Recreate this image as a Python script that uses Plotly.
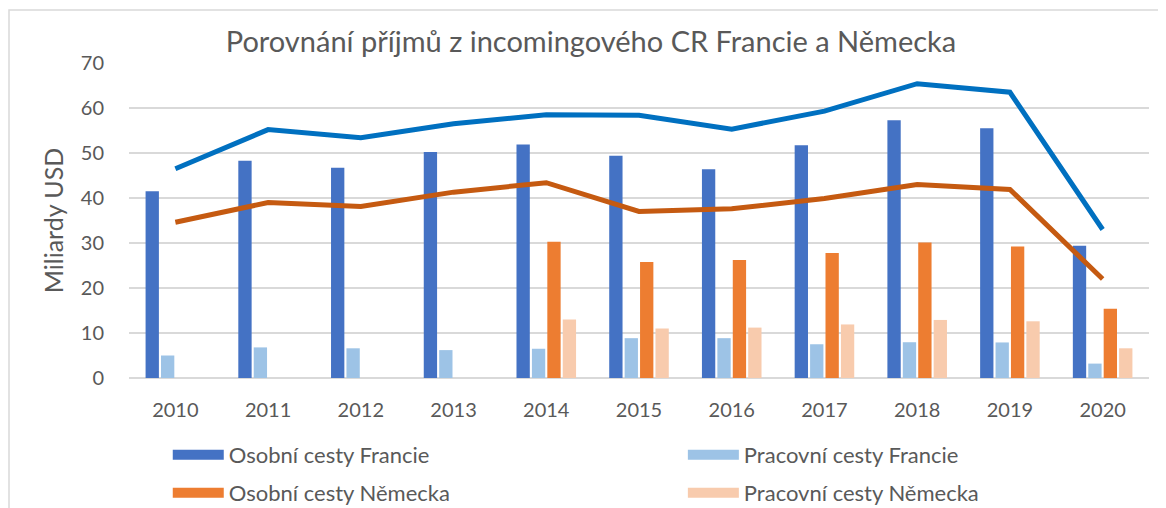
import plotly.graph_objects as go

years = ["2010", "2011", "2012", "2013", "2014", "2015", "2016", "2017", "2018", "2019", "2020"]
osobni_francie = [41.5, 48.3, 46.7, 50.2, 51.9, 49.4, 46.4, 51.7, 57.3, 55.5, 29.4]
pracovni_francie = [5.0, 6.8, 6.6, 6.2, 6.5, 8.85, 8.85, 7.5, 7.95, 7.9, 3.2]
osobni_nemecka = [None, None, None, None, 30.3, 25.8, 26.2, 27.8, 30.1, 29.2, 15.4]
pracovni_nemecka = [None, None, None, None, 13.0, 11.0, 11.2, 11.9, 12.9, 12.6, 6.6]
celkem_francie = [46.5, 55.2, 53.4, 56.5, 58.5, 58.4, 55.3, 59.3, 65.4, 63.5, 33.0]
celkem_nemecka = [34.6, 39.0, 38.1, 41.3, 43.4, 37.0, 37.6, 39.9, 43.0, 41.9, 22.0]

bar_series = [
    ("Osobní cesty Francie", osobni_francie, "#4472C4", "legend"),
    ("Pracovní cesty Francie", pracovni_francie, "#9DC3E6", "legend2"),
    ("Osobní cesty Německa", osobni_nemecka, "#ED7D31", "legend3"),
    ("Pracovní cesty Německa", pracovni_nemecka, "#F8CBAD", "legend4"),
]

FONT = "Lato"
GREY = "#595959"

# page body has an 8px margin: figure is placed at (8, 8) in the window
W, H = 1158, 500
PL, PT, PW, PH = 121, 55, 1020, 315   # plot area in figure pixels

fig = go.Figure()
for name, vals, color, lg in bar_series:
    fig.add_trace(go.Bar(x=years, y=vals, name=name, marker=dict(color=color, line=dict(width=0)),
                         showlegend=False, legendgroup=name))
    # legend swatch entry (wide rectangle like the original)
    fig.add_trace(go.Scatter(x=[None], y=[None], mode="lines", name=name, legendgroup=name,
                             line=dict(color=color, width=13), legend=lg, showlegend=True,
                             hoverinfo="skip"))

fig.add_trace(go.Scatter(x=years, y=celkem_francie, mode="lines", name="Celkem Francie",
                         line=dict(color="#0070C0", width=5), showlegend=False))
fig.add_trace(go.Scatter(x=years, y=celkem_nemecka, mode="lines", name="Celkem Německa",
                         line=dict(color="#C55A11", width=5), showlegend=False))

legend_common = dict(orientation="v", xanchor="left", yanchor="middle", itemwidth=51,
                     font=dict(family=FONT, size=22, color=GREY), bgcolor="rgba(0,0,0,0)",
                     tracegroupgap=0)
row1, row2 = (378 - 455) / PH, (378 - 493) / PH
colL, colR = 0.038, 0.543

fig.update_layout(
    width=W, height=H,
    margin=dict(l=PL, r=W - PL - PW, t=PT, b=H - PT - PH, autoexpand=False),
    paper_bgcolor="white", plot_bgcolor="white",
    barmode="group", bargap=0.335, bargroupgap=0.136,
    font=dict(family=FONT, color=GREY),
    title=dict(text="Porovnání příjmů z incomingového CR Francie a Německa",
               x=583 / W, xref="container", xanchor="center",
               y=1 - 34 / H, yref="container", yanchor="middle",
               font=dict(family=FONT, size=29, color=GREY)),
    xaxis=dict(type="category", showgrid=False, showline=False, zeroline=False, ticks="",
               automargin=False,
               tickfont=dict(family=FONT, size=20, color=GREY), ticklabelstandoff=18),
    yaxis=dict(range=[0, 70], dtick=10, showgrid=True, gridcolor="#D9D9D9", gridwidth=1.5,
               zeroline=True, zerolinecolor="#D9D9D9", zerolinewidth=1.5, showline=False, ticks="",
               automargin=False,
               tickfont=dict(family=FONT, size=20, color=GREY), ticklabelstandoff=24,
               title=dict(text="Miliardy USD", font=dict(family=FONT, size=25, color=GREY), standoff=10)),
    legend=dict(x=colL, y=row1, **legend_common),
    legend2=dict(x=colR, y=row1, **legend_common),
    legend3=dict(x=colL, y=row2, **legend_common),
    legend4=dict(x=colR, y=row2, **legend_common),
    shapes=[dict(type="rect", xref="paper", yref="paper",
                 x0=(1 - PL) / PW, x1=(W + 10 - PL) / PW,
                 y0=(PT + PH - (H + 10)) / PH, y1=(PT + PH - 2) / PH,
                 line=dict(color="#D9D9D9", width=1.5), fillcolor="rgba(0,0,0,0)", layer="below")],
)

fig.write_html("out.html")
